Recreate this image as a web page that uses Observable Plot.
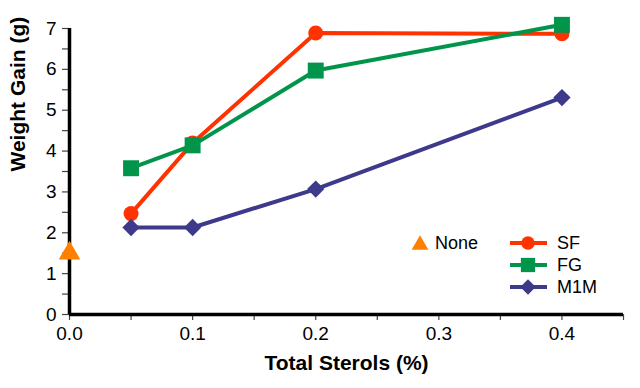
<!DOCTYPE html>
<html>
<head>
<meta charset="utf-8">
<script src="https://cdn.jsdelivr.net/npm/d3@7"></script>
<script src="https://cdn.jsdelivr.net/npm/@observablehq/plot@0.6"></script>
<style>
  html, body { margin: 0; padding: 0; background: #fff; }
  #chart { position: relative; width: 640px; height: 388px; }
</style>
</head>
<body>
<div id="chart"></div>
<script>
// ---- data ----
const doses = [0.05, 0.1, 0.2, 0.4];
const sfValues = [2.47, 4.2, 6.89, 6.87];
const fgValues = [3.58, 4.14, 5.97, 7.09];
const m1mValues = [2.13, 2.13, 3.07, 5.31];
const noneDose = [0];
const noneValues = [1.5];

const seriesNames = ["SF", "FG", "M1M"];
const seriesValues = [sfValues, fgValues, m1mValues];
const seriesColors = ["#FF3300", "#00954A", "#3D3A8C"];
const seriesSymbols = ["circle", "square", "diamond2"];
const seriesR = [7.5, 9, 7.8];
const noneColor = "#FF7F00";
const noneR = 8;

const xMajorTicks = [0, 0.1, 0.2, 0.3, 0.4];
const xMinorTicks = [0.05, 0.15, 0.25, 0.35, 0.45];
const yMajorTicks = [0, 1, 2, 3, 4, 5, 6, 7];
const yMinorTicks = [0.5, 1.5, 2.5, 3.5, 4.5, 5.5, 6.5];

const xTitle = "Total Sterols (%)";
const yTitle = "Weight Gain (g)";

// ---- build table ----
const rows = [];
seriesNames.forEach((s, i) => {
  doses.forEach((d, j) => rows.push({series: s, dose: d, value: seriesValues[i][j]}));
});
const noneRows = noneDose.map((d, i) => ({series: "None", dose: d, value: noneValues[i]}));

const font = "'Liberation Sans', Arial, sans-serif";

const marks = [
  Plot.axisY({ticks: yMinorTicks, tickFormat: () => "", tickSize: 7, stroke: "#444", strokeWidth: 1.2, label: null}),
  Plot.axisY({ticks: yMajorTicks, tickFormat: d => String(d), tickSize: 7, tickPadding: 6, fontSize: 19, stroke: "#444", strokeWidth: 1.2, label: null}),
  Plot.axisX({ticks: xMinorTicks, tickFormat: () => "", tickSize: 6, stroke: "#444", strokeWidth: 1.2, label: null}),
  Plot.axisX({ticks: xMajorTicks, tickFormat: d3.format(".1f"), tickSize: 6, tickPadding: 6, fontSize: 19, stroke: "#444", strokeWidth: 1.2, label: null}),
  Plot.ruleY([0], {stroke: "black", strokeWidth: 3.5}),
  Plot.ruleX([0], {stroke: "black", strokeWidth: 3.5})
];

seriesNames.forEach((s, i) => {
  const data = rows.filter(r => r.series === s);
  marks.push(Plot.line(data, {x: "dose", y: "value", stroke: seriesColors[i], strokeWidth: 4}));
  marks.push(Plot.dot(data, {x: "dose", y: "value", symbol: seriesSymbols[i], r: seriesR[i], fill: seriesColors[i], stroke: "none"}));
});
marks.push(Plot.dot(noneRows, {x: "dose", y: "value", symbol: "triangle", r: noneR, fill: noneColor, stroke: "none"}));

marks.push(Plot.text([yTitle], {frameAnchor: "left", dx: -51, rotate: -90, fontSize: 21, fontWeight: "bold", fill: "black", text: d => d}));
marks.push(Plot.text([xTitle], {frameAnchor: "bottom", dy: 55, fontSize: 21, fontWeight: "bold", fill: "black", text: d => d}));

const chart = Plot.plot({
  width: 640,
  height: 388,
  marginLeft: 69,
  marginRight: 17,
  marginTop: 28,
  marginBottom: 74,
  style: {fontFamily: font, color: "black", background: "white"},
  x: {domain: [0, 0.45]},
  y: {domain: [0, 7]},
  marks
});
document.getElementById("chart").appendChild(chart);

// ---- legend (inside plot area, lower right) ----
const svg = d3.select(chart);
const lg = svg.append("g").attr("font-family", font).attr("font-size", 18).attr("text-anchor", "start").attr("fill", "black");
const symMap = {circle: d3.symbolCircle, square: d3.symbolSquare, diamond2: d3.symbolDiamond2, triangle: d3.symbolTriangle2};

// None item
const noneG = lg.append("g").attr("transform", "translate(420,245)");
noneG.append("path").attr("d", d3.symbol(symMap.triangle, Math.PI * 8 * 8)()).attr("fill", noneColor);
noneG.append("text").attr("x", 15).attr("dy", "0.35em").attr("y", -2).text("None");

seriesNames.forEach((s, i) => {
  const g = lg.append("g").attr("transform", `translate(528,${243 + i * 22})`);
  g.append("line").attr("x1", -18).attr("x2", 19).attr("stroke", seriesColors[i]).attr("stroke-width", 4);
  g.append("path").attr("d", d3.symbol(symMap[seriesSymbols[i]], Math.PI * seriesR[i] * seriesR[i] * 0.8)()).attr("fill", seriesColors[i]);
  g.append("text").attr("x", 29).attr("dy", "0.35em").text(s);
});
</script>
</body>
</html>
